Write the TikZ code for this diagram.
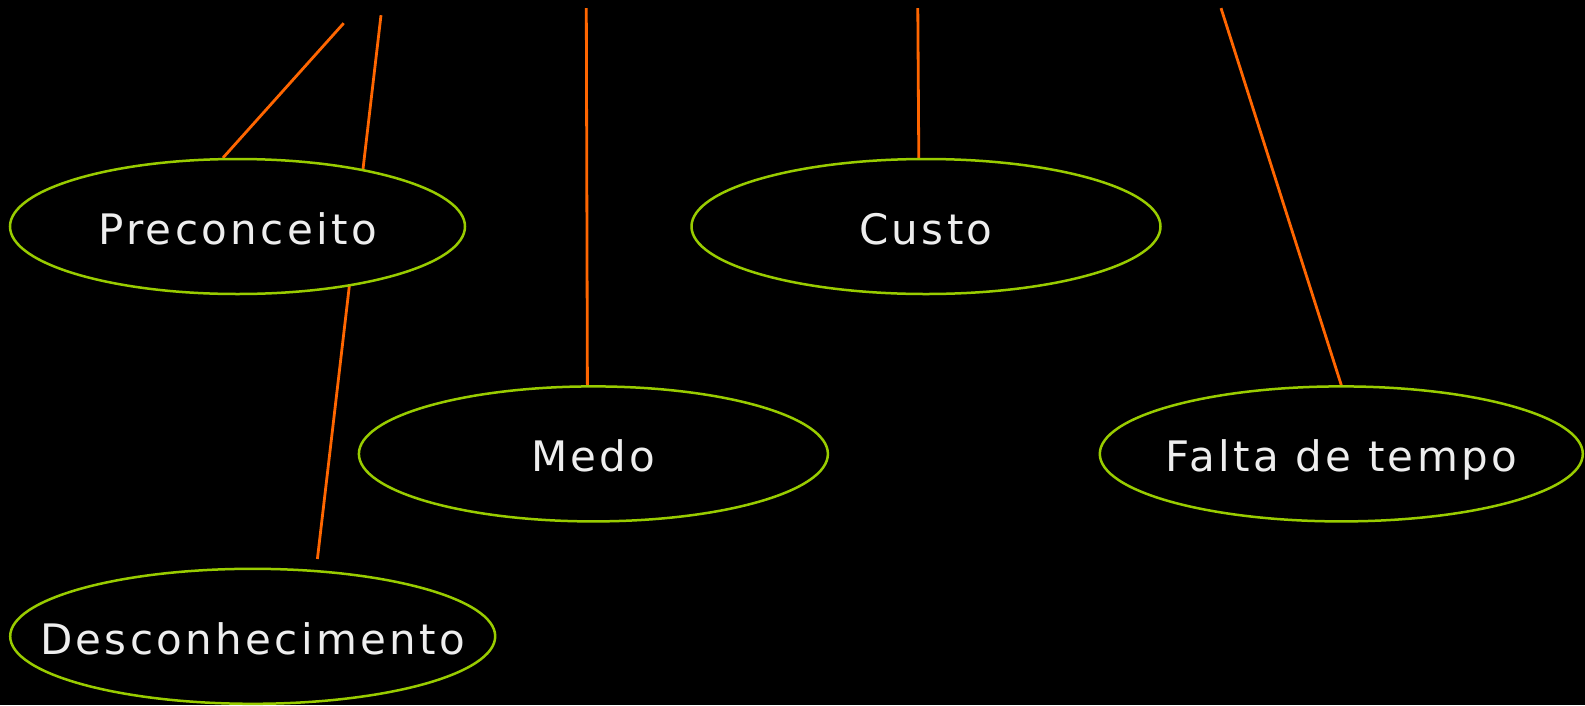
\documentclass[tikz,border=0pt]{standalone}
\usepackage{fontspec}
\setmainfont{DejaVu Sans}[LetterSpace=8]
\usetikzlibrary{shapes.geometric,backgrounds}
\definecolor{lime}{HTML}{99CC00}
\definecolor{wire}{HTML}{FF6600}
\definecolor{ink}{HTML}{EEEEEE}
\tikzset{
  bubble/.style={ellipse, draw=lime, line width=2.5pt, fill=black,
    inner sep=0pt, minimum height=135pt},
  caption/.style={anchor=base, text=ink, font=\fontsize{42}{48}\selectfont, inner sep=0pt},
  link/.style={draw=wire, line width=2.8pt}
}
\begin{document}
\begin{tikzpicture}[x=1pt, y=-1pt]
  \useasboundingbox (0,0) rectangle (1585,705);

  % bubbles
  \node[bubble, minimum width=455pt] (pre) at (237.5,226.5) {};
  \node[bubble, minimum width=469pt] (cus) at (926,226.5) {};
  \node[bubble, minimum width=469pt] (med) at (593.4,453.9) {};
  \node[bubble, minimum width=483pt] (fal) at (1341.3,453.9) {};
  \node[bubble, minimum width=485pt] (des) at (252.7,636.3) {};

  % captions
  \node[caption] (tpre) at ([yshift=-18pt]pre.center) {Preconceito};
  \node[caption] (tcus) at ([yshift=-18pt]cus.center) {Custo};
  \node[caption] (tmed) at ([yshift=-18pt]med.center) {Medo};
  \node[caption] (tfal) at ([yshift=-18pt]fal.center) {Falta de tempo};
  \node[caption] (tdes) at ([yshift=-18pt]des.center) {Desconhecimento};

  % loose ends of the connectors
  \coordinate (a0) at (343.7,23.2);
  \coordinate (b0) at (381,15.2);
  \coordinate (b1) at (317.4,559);
  \coordinate (c0) at (586.3,8.1);
  \coordinate (d0) at (917.8,8.1);
  \coordinate (e0) at (1221,8.1);

  \begin{scope}[on background layer]
    \fill[black] (0,0) rectangle (1585,705);
    \draw[link] (a0) -- (pre.102.6);
    \draw[link] (b0) -- (b1);
    \draw[link] (c0) -- (med.95.6);
    \draw[link] (d0) -- (cus.96.9);
    \draw[link] (e0) -- (fal.north);
  \end{scope}
\end{tikzpicture}
\end{document}
